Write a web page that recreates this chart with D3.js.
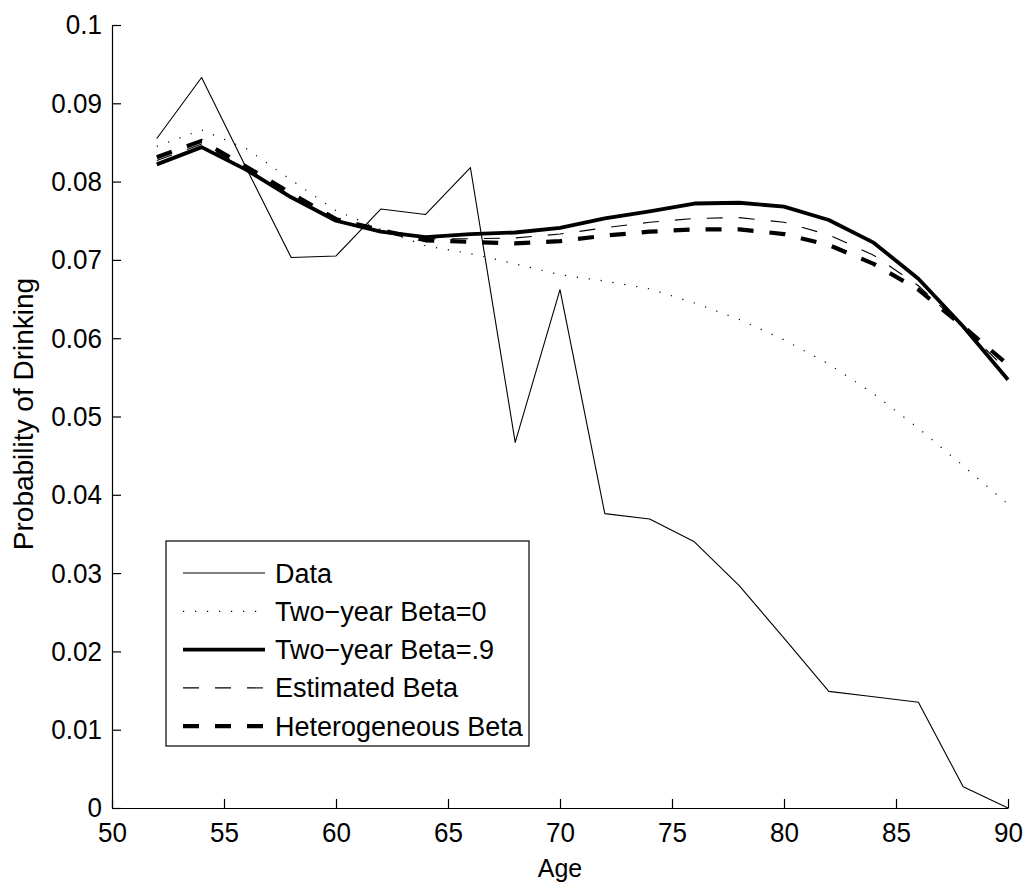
<!DOCTYPE html>
<html>
<head>
<meta charset="utf-8">
<script src="https://cdn.jsdelivr.net/npm/d3@7"></script>
<style>
  html, body { margin: 0; padding: 0; background: #fff; }
  svg { display: block; }
  text { font-family: "Liberation Sans", Arial, Helvetica, sans-serif; fill: #000; }
</style>
</head>
<body>
<svg id="chart" width="1028" height="891"></svg>
<script>
const ages = [52, 54, 56, 58, 60, 62, 64, 66, 68, 70, 72, 74, 76, 78, 80, 82, 84, 86, 88, 90];
const dataValues = [0.0855, 0.0933, 0.0817, 0.0703, 0.0705, 0.0765, 0.0758, 0.0818, 0.0467, 0.0662, 0.0376, 0.0369, 0.0340, 0.0284, 0.0217, 0.0149, 0.0142, 0.0135, 0.0027, 0.0000];
const beta0Values = [0.0845, 0.0866, 0.0842, 0.0802, 0.0763, 0.0739, 0.0718, 0.0708, 0.0695, 0.0681, 0.0673, 0.0663, 0.0645, 0.0624, 0.0598, 0.0567, 0.0529, 0.0485, 0.0437, 0.0388];
const beta9Values = [0.0822, 0.0844, 0.0815, 0.0780, 0.0750, 0.0736, 0.0729, 0.0733, 0.0735, 0.0741, 0.0753, 0.0762, 0.0772, 0.0773, 0.0768, 0.0751, 0.0722, 0.0676, 0.0615, 0.0547];
const estBetaValues = [0.0827, 0.0848, 0.0817, 0.0782, 0.0751, 0.0737, 0.0727, 0.0727, 0.0728, 0.0733, 0.0741, 0.0748, 0.0753, 0.0754, 0.0748, 0.0732, 0.0706, 0.0667, 0.0614, 0.0558];
const hetBetaValues = [0.0831, 0.0852, 0.0819, 0.0785, 0.0752, 0.0738, 0.0725, 0.0723, 0.0721, 0.0724, 0.0731, 0.0736, 0.0739, 0.0739, 0.0733, 0.0719, 0.0695, 0.0662, 0.0615, 0.0566];
const legendLabels = ["Data", "Two\u2212year Beta=0", "Two\u2212year Beta=.9", "Estimated Beta", "Heterogeneous Beta"];
const xTicks = [50, 55, 60, 65, 70, 75, 80, 85, 90];
const yTicks = [0, 0.01, 0.02, 0.03, 0.04, 0.05, 0.06, 0.07, 0.08, 0.09, 0.1];
const yTickLabels = ["0", "0.01", "0.02", "0.03", "0.04", "0.05", "0.06", "0.07", "0.08", "0.09", "0.1"];
const xLabel = "Age";
const yLabel = "Probability of Drinking";

const styles = [
  { width: 1.1, dash: null },
  { width: 1.2, dash: "1.2,10.8" },
  { width: 3.8, dash: null },
  { width: 1.1, dash: "16,16" },
  { width: 4.2, dash: "16,16" }
];
const seriesList = [dataValues, beta0Values, beta9Values, estBetaValues, hetBetaValues];

const svg = d3.select("#chart");
const x = d3.scaleLinear().domain([50, 90]).range([112, 1008]);
const y = d3.scaleLinear().domain([0, 0.1]).range([808, 25]);
const sx = 0.93;

// axes
const xAxis = d3.axisBottom(x).tickValues(xTicks).tickSizeInner(-9).tickSizeOuter(0).tickPadding(14).tickFormat(d3.format("d"));
const gx = svg.append("g").attr("transform", "translate(0,808)").call(xAxis);
gx.select(".domain").attr("stroke", "#000").attr("stroke-width", 1.2);
gx.selectAll(".tick line").attr("stroke", "#000").attr("stroke-width", 1.2);
gx.selectAll(".tick text").style("font-size", "28px").attr("fill", "#000")
  .attr("transform", `scale(${sx},1)`);

const yAxis = d3.axisLeft(y).tickValues(yTicks).tickSizeInner(-9).tickSizeOuter(0).tickPadding(10 / sx)
  .tickFormat((d, i) => yTickLabels[i]);
const gy = svg.append("g").attr("transform", "translate(112,0)").call(yAxis);
gy.select(".domain").attr("stroke", "#000").attr("stroke-width", 1.2);
gy.selectAll(".tick line").attr("stroke", "#000").attr("stroke-width", 1.2);
gy.selectAll(".tick text").style("font-size", "28px").attr("fill", "#000")
  .attr("transform", `scale(${sx},1)`);

svg.append("text").attr("x", 560).attr("y", 877).attr("text-anchor", "middle").style("font-size", "25px").text(xLabel);
svg.append("text").attr("transform", "translate(33,414) rotate(-90)").attr("text-anchor", "middle").style("font-size", "28px").text(yLabel);

// lines
const line = d3.line().x((d, i) => x(ages[i])).y(d => y(d));
seriesList.forEach((vals, k) => {
  svg.append("path").datum(vals)
    .attr("d", line)
    .attr("fill", "none")
    .attr("stroke", "#000")
    .attr("stroke-width", styles[k].width)
    .attr("stroke-linejoin", "round")
    .attr("stroke-dasharray", styles[k].dash);
});

// legend
const lg = svg.append("g");
lg.append("rect").attr("x", 166).attr("y", 541).attr("width", 363).attr("height", 205)
  .attr("fill", "#fff").attr("stroke", "#000").attr("stroke-width", 1.2);
legendLabels.forEach((lab, k) => {
  const cy = 573 + k * 38.3;
  lg.append("line").attr("x1", 183).attr("x2", 265).attr("y1", cy).attr("y2", cy)
    .attr("stroke", "#000").attr("stroke-width", styles[k].width)
    .attr("stroke-dasharray", styles[k].dash);
  lg.append("text").attr("x", 275).attr("y", cy + 9.5).style("font-size", "27px").text(lab);
});
</script>
</body>
</html>
